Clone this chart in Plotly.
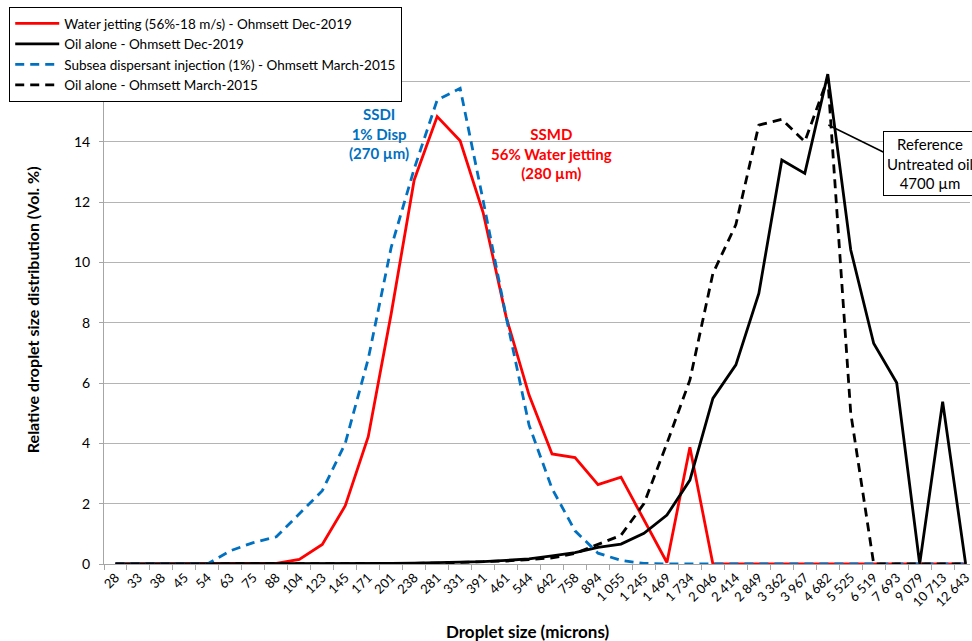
import plotly.graph_objects as go

sizes = ["28", "33", "38", "45", "54", "63", "75", "88", "104", "123", "145", "171",
         "201", "238", "281", "331", "391", "461", "544", "642", "758", "894",
         "1 055", "1 245", "1 469", "1 734", "2 046", "2 414", "2 849", "3 362",
         "3 967", "4 682", "5 525", "6 519", "7 693", "9 079", "10 713", "12 643"]

water_jetting_2019 = [0, 0, 0, 0, 0, 0, 0, 0.02, 0.15, 0.65, 1.93, 4.22, 8.3, 12.73,
                      14.83, 14.03, 11.65, 8.2, 5.6, 3.65, 3.53, 2.63, 2.88, 1.47,
                      0.05, 3.87, 0, 0, 0, 0, 0, 0, 0, 0, 0, 0, 0, 0]

oil_alone_2019 = [0, 0, 0, 0, 0, 0, 0, 0, 0, 0, 0, 0.01, 0.02, 0.03, 0.04, 0.05, 0.08,
                  0.12, 0.17, 0.27, 0.38, 0.55, 0.66, 1.02, 1.62, 2.78, 5.49, 6.6,
                  8.97, 13.39, 12.95, 16.24, 10.41, 7.31, 6.01, 0, 5.38, 0]

ssdi_2015 = [0, 0, 0, 0, 0, 0.44, 0.71, 0.9, 1.68, 2.43, 4.0, 6.8, 10.5, 13.1, 15.38,
             15.77, 12.05, 8.2, 4.6, 2.5, 1.1, 0.36, 0.12, 0.02, 0, 0, 0, 0, 0, 0,
             0, 0, 0, 0, 0, 0, 0, 0]

oil_alone_2015 = [0, 0, 0, 0, 0, 0, 0, 0, 0, 0, 0, 0, 0.01, 0.02, 0.03, 0.05, 0.07,
                  0.1, 0.15, 0.2, 0.35, 0.65, 0.95, 2.0, 4.0, 6.1, 9.63, 11.25, 14.55,
                  14.74, 14.0, 16.1, 5.0, 0, 0, 0, 0, 0]

series_names = ["Water jetting (56%-18 m/s) - Ohmsett Dec-2019",
                "Oil alone - Ohmsett Dec-2019",
                "Subsea dispersant injection (1%) - Ohmsett March-2015",
                "Oil alone - Ohmsett March-2015"]

y_tick_values = [0, 2, 4, 6, 8, 10, 12, 14, 16, 18]
# 16 and 18 sit behind the legend in the original, so their labels are not visible
y_tick_labels = ["0", "2", "4", "6", "8", "10", "12", "14", "", ""]

FONT = "Lato"
RED = "#FF0000"
BLUE = "#0070C0"
BLACK = "#000000"
LW = 2.8

fig = go.Figure()
fig.add_trace(go.Scatter(x=sizes, y=water_jetting_2019, mode="lines", name=series_names[0],
                         line=dict(color=RED, width=LW)))
fig.add_trace(go.Scatter(x=sizes, y=oil_alone_2019, mode="lines", name=series_names[1],
                         line=dict(color=BLACK, width=LW)))
fig.add_trace(go.Scatter(x=sizes, y=ssdi_2015, mode="lines", name=series_names[2],
                         line=dict(color=BLUE, width=LW, dash="9px,6px")))
fig.add_trace(go.Scatter(x=sizes, y=oil_alone_2015, mode="lines", name=series_names[3],
                         line=dict(color=BLACK, width=LW, dash="9px,6px")))

W, H = 972, 641
L, R, T, B = 104, 0, 21, 77
plot_w = W - L - R
plot_h = H - B - T
unit = 23.03
x_max = -0.5 + plot_w / unit


def px_x(px):
    return (px - L) / plot_w


def px_y(py):
    return (H - B - py) / plot_h


fig.update_layout(
    width=W, height=H,
    margin=dict(l=L, r=R, t=T, b=B),
    paper_bgcolor="white", plot_bgcolor="white",
    font=dict(family=FONT, size=13, color="black"),
    showlegend=True,
    legend=dict(
        x=px_x(9), y=px_y(7),
        xanchor="left", yanchor="top",
        bgcolor="white", bordercolor="black", borderwidth=1,
        font=dict(family=FONT, size=13.5, color="black"),
        tracegroupgap=0, itemwidth=44,
    ),
    xaxis=dict(
        type="category", range=[-0.5, x_max],
        showgrid=False, showline=True, linecolor="#A6A6A6", linewidth=1,
        ticks="outside", ticklen=5, tickcolor="#A6A6A6", tickson="boundaries",
        tickangle=-45, tickfont=dict(family=FONT, size=13, color="black"),
        zeroline=False,
    ),
    yaxis=dict(
        range=[0, 18], tickmode="array", tickvals=y_tick_values, ticktext=y_tick_labels,
        showgrid=True, gridcolor="#B4B4B4", gridwidth=1,
        showline=True, linecolor="#A6A6A6", linewidth=1,
        ticks="outside", ticklen=4, tickcolor="#A6A6A6",
        tickfont=dict(family=FONT, size=14, color="black"),
        ticklabelstandoff=6,
        zeroline=False,
    ),
)

annotations = [
    dict(text="<b>Relative droplet size distribution (Vol. %)</b>", xref="paper", yref="paper",
         x=px_x(32), y=px_y(310), textangle=-90,
         showarrow=False, xanchor="center", yanchor="middle",
         font=dict(family=FONT, size=16, color="black")),
    dict(text="<b>Droplet size (microns)</b>", xref="paper", yref="paper",
         x=px_x(529), y=px_y(631),
         showarrow=False, xanchor="center", yanchor="middle",
         font=dict(family=FONT, size=17, color="black")),
    dict(text="<b>SSDI<br>1% Disp<br>(270 µm)</b>", xref="paper", yref="paper",
         x=px_x(380), y=px_y(133),
         showarrow=False, xanchor="center", yanchor="middle",
         font=dict(family=FONT, size=15, color=BLUE)),
    dict(text="<b>SSMD<br>56% Water jetting<br>(280 µm)</b>", xref="paper", yref="paper",
         x=px_x(553), y=px_y(153),
         showarrow=False, xanchor="center", yanchor="middle",
         font=dict(family=FONT, size=15, color=RED)),
    dict(text="Reference<br>Untreated oil<br>4700 µm", xref="paper", yref="paper",
         x=px_x(885), y=px_y(163.5),
         showarrow=False, xanchor="left", yanchor="middle",
         bgcolor="white", bordercolor="black", borderwidth=1, borderpad=3,
         font=dict(family=FONT, size=15, color="black")),
]
fig.update_layout(annotations=annotations)

# callout line from the untreated-oil peak to the reference box
fig.add_shape(type="line", xref="paper", yref="paper",
              x0=px_x(830), y0=px_y(125), x1=px_x(885), y1=px_y(152),
              line=dict(color="black", width=1.5), layer="above")

fig.write_html("out.html")
